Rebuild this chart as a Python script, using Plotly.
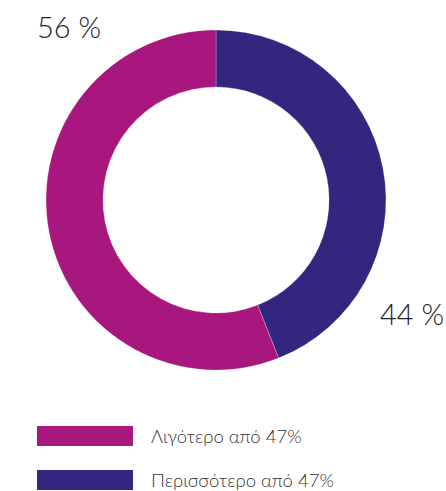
import plotly.graph_objects as go

# Data
labels = ["Περισσότερο από 47%", "Λιγότερο από 47%"]
values = [44, 56]
colors = ["#32267F", "#A8177E"]
legend_order = [1, 0]  # purple first in legend

W, H = 446, 491
cx, cy, R = 216, 200, 170

fig = go.Figure()
fig.add_trace(go.Pie(
    labels=labels,
    values=values,
    marker=dict(colors=colors, line=dict(color="rgba(255,255,255,0.5)", width=0.5)),
    hole=0.665,
    sort=False,
    direction="clockwise",
    rotation=0,
    textinfo="none",
    hoverinfo="label+percent",
    showlegend=False,
    domain=dict(x=[(cx - R) / W, (cx + R) / W], y=[1 - (cy + R) / H, 1 - (cy - R) / H]),
))

label_font = dict(family="Lato", size=29, color="#222222", weight=300)
# value labels
label_pos = {1: (35, 27), 0: (378, 313)}  # pixel positions (left x, center y)
annotations = []
for i, v in enumerate(values):
    x, y = label_pos[i]
    annotations.append(dict(
        x=x / W, y=1 - y / H, xref="paper", yref="paper",
        text=f"{v} %", showarrow=False, xanchor="left", yanchor="middle",
        font=label_font,
    ))

# custom legend
shapes = []
leg_y = [436, 480]
for k, i in enumerate(legend_order):
    yc = leg_y[k]
    shapes.append(dict(
        type="rect", xref="paper", yref="paper",
        x0=37 / W, x1=133 / W, y0=1 - (yc + 10) / H, y1=1 - (yc - 10) / H,
        fillcolor=colors[i], line=dict(width=0),
    ))
    annotations.append(dict(
        x=149 / W, y=1 - yc / H, xref="paper", yref="paper",
        text=labels[i], showarrow=False, xanchor="left", yanchor="middle",
        font=dict(family="Lato", size=18.5, color="#333333", weight=300),
    ))

fig.update_layout(
    width=W, height=H,
    margin=dict(l=0, r=0, t=0, b=0),
    paper_bgcolor="white", plot_bgcolor="white",
    annotations=annotations,
    shapes=shapes,
)

fig.write_html(
    "out.html",
    config={"displayModeBar": False},
    post_script="document.body.style.margin='0';document.body.style.overflow='hidden';",
)
